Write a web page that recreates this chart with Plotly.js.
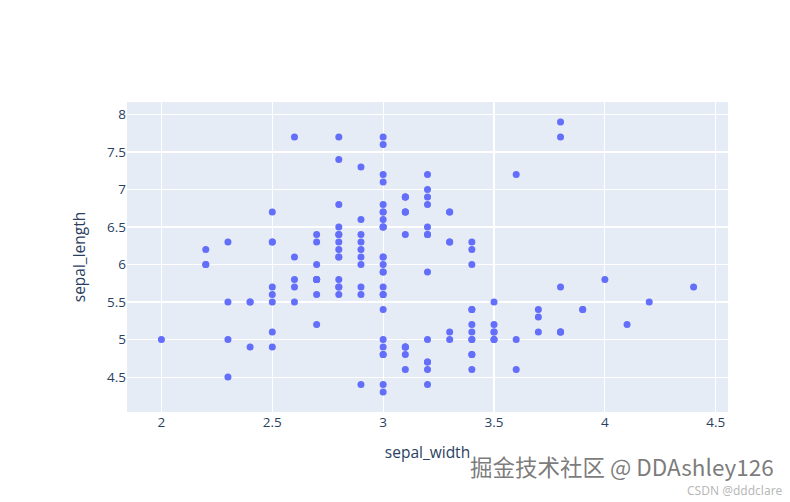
<!DOCTYPE html>
<html>
<head>
<meta charset="utf-8">
<script src="https://cdn.plot.ly/plotly-3.0.1.min.js"></script>
<style>html,body{margin:0;padding:0;background:#fff;}#chart{width:790px;height:502px;}</style>
</head>
<body>
<div id="chart"></div>
<script>
const sepal_width = [
3.5,3.0,3.2,3.1,3.6,3.9,3.4,3.4,2.9,3.1,3.7,3.4,3.0,3.0,4.0,4.4,3.9,3.5,3.8,3.8,3.4,3.7,3.6,3.3,3.4,3.0,3.4,3.5,3.4,3.2,3.1,3.4,4.1,4.2,3.1,3.2,3.5,3.1,3.0,3.4,3.5,2.3,3.2,3.5,3.8,3.0,3.8,3.2,3.7,3.3,
3.2,3.2,3.1,2.3,2.8,2.8,3.3,2.4,2.9,2.7,2.0,3.0,2.2,2.9,2.9,3.1,3.0,2.7,2.2,2.5,3.2,2.8,2.5,2.8,2.9,3.0,2.8,3.0,2.9,2.6,2.4,2.4,2.7,2.7,3.0,3.4,3.1,2.3,3.0,2.5,2.6,3.0,2.6,2.3,2.7,3.0,2.9,2.9,2.5,2.8,
3.3,2.7,3.0,2.9,3.0,3.0,2.5,2.9,2.5,3.6,3.2,2.7,3.0,2.5,2.8,3.2,3.0,3.8,2.6,2.2,3.2,2.8,2.8,2.7,3.3,3.2,2.8,3.0,2.8,3.0,2.8,3.8,2.8,2.8,2.6,3.0,3.4,3.1,3.0,3.1,3.1,3.1,2.7,3.2,3.3,3.0,2.5,3.0,3.4,3.0
];
const sepal_length = [
5.1,4.9,4.7,4.6,5.0,5.4,4.6,5.0,4.4,4.9,5.4,4.8,4.8,4.3,5.8,5.7,5.4,5.1,5.7,5.1,5.4,5.1,4.6,5.1,4.8,5.0,5.0,5.2,5.2,4.7,4.8,5.4,5.2,5.5,4.9,5.0,5.5,4.9,4.4,5.1,5.0,4.5,4.4,5.0,5.1,4.8,5.1,4.6,5.3,5.0,
7.0,6.4,6.9,5.5,6.5,5.7,6.3,4.9,6.6,5.2,5.0,5.9,6.0,6.1,5.6,6.7,5.6,5.8,6.2,5.6,5.9,6.1,6.3,6.1,6.4,6.6,6.8,6.7,6.0,5.7,5.5,5.5,5.8,6.0,5.4,6.0,6.7,6.3,5.6,5.5,5.5,6.1,5.8,5.0,5.6,5.7,5.7,6.2,5.1,5.7,
6.3,5.8,7.1,6.3,6.5,7.6,4.9,7.3,6.7,7.2,6.5,6.4,6.8,5.7,5.8,6.4,6.5,7.7,7.7,6.0,6.9,5.6,7.7,6.3,6.7,7.2,6.2,6.1,6.4,7.2,7.4,7.9,6.4,6.3,6.1,7.7,6.3,6.4,6.0,6.9,6.7,6.9,5.8,6.8,6.7,6.7,6.3,6.5,6.2,5.9
];
const xTitle = "sepal_width";
const yTitle = "sepal_length";
const watermark1 = "掘金技术社区 @ DDAshley126";
const watermark2 = "CSDN @dddclare";

const trace = {
  type: "scatter",
  mode: "markers",
  x: sepal_width,
  y: sepal_length,
  marker: {color: "#636efa", size: 7},
  hovertemplate: "sepal_width=%{x}<br>sepal_length=%{y}<extra></extra>"
};

const layout = {
  width: 790, height: 502,
  margin: {l: 127, r: 62, t: 102, b: 90, autoexpand: false},
  paper_bgcolor: "#ffffff",
  plot_bgcolor: "#E5ECF6",
  font: {family: "'Open Sans', verdana, arial, sans-serif", size: 13.5, color: "#2a3f5f"},
  showlegend: false,
  xaxis: {
    title: {text: xTitle, font: {size: 15.5}, standoff: 17},
    gridcolor: "white", gridwidth: 1.2, zeroline: false, ticks: "", automargin: false,
    tickvals: [2, 2.5, 3, 3.5, 4, 4.5]
  },
  yaxis: {
    title: {text: yTitle, font: {size: 15.5}, standoff: 17},
    gridcolor: "white", gridwidth: 1.2, zeroline: false, ticks: "", automargin: false,
    tickvals: [4.5, 5, 5.5, 6, 6.5, 7, 7.5, 8]
  },
  annotations: [
    {xref: "paper", yref: "paper", x: 1.078, y: -0.228, xanchor: "right", yanchor: "bottom",
     text: watermark1, showarrow: false, borderpad: 0,
     font: {family: "'Noto Sans CJK SC', 'Noto Sans', sans-serif", size: 22.5, color: "rgba(100,100,100,0.85)", shadow: "1px 1px 1px #ffffff"}},
    {xref: "paper", yref: "paper", x: 1.092, y: -0.283, xanchor: "right", yanchor: "bottom",
     text: watermark2, showarrow: false, borderpad: 0,
     font: {family: "'Noto Sans', sans-serif", size: 12, color: "rgba(175,175,175,0.9)"}}
  ]
};

Plotly.newPlot("chart", [trace], layout, {displayModeBar: false, staticPlot: true});
</script>
</body>
</html>
